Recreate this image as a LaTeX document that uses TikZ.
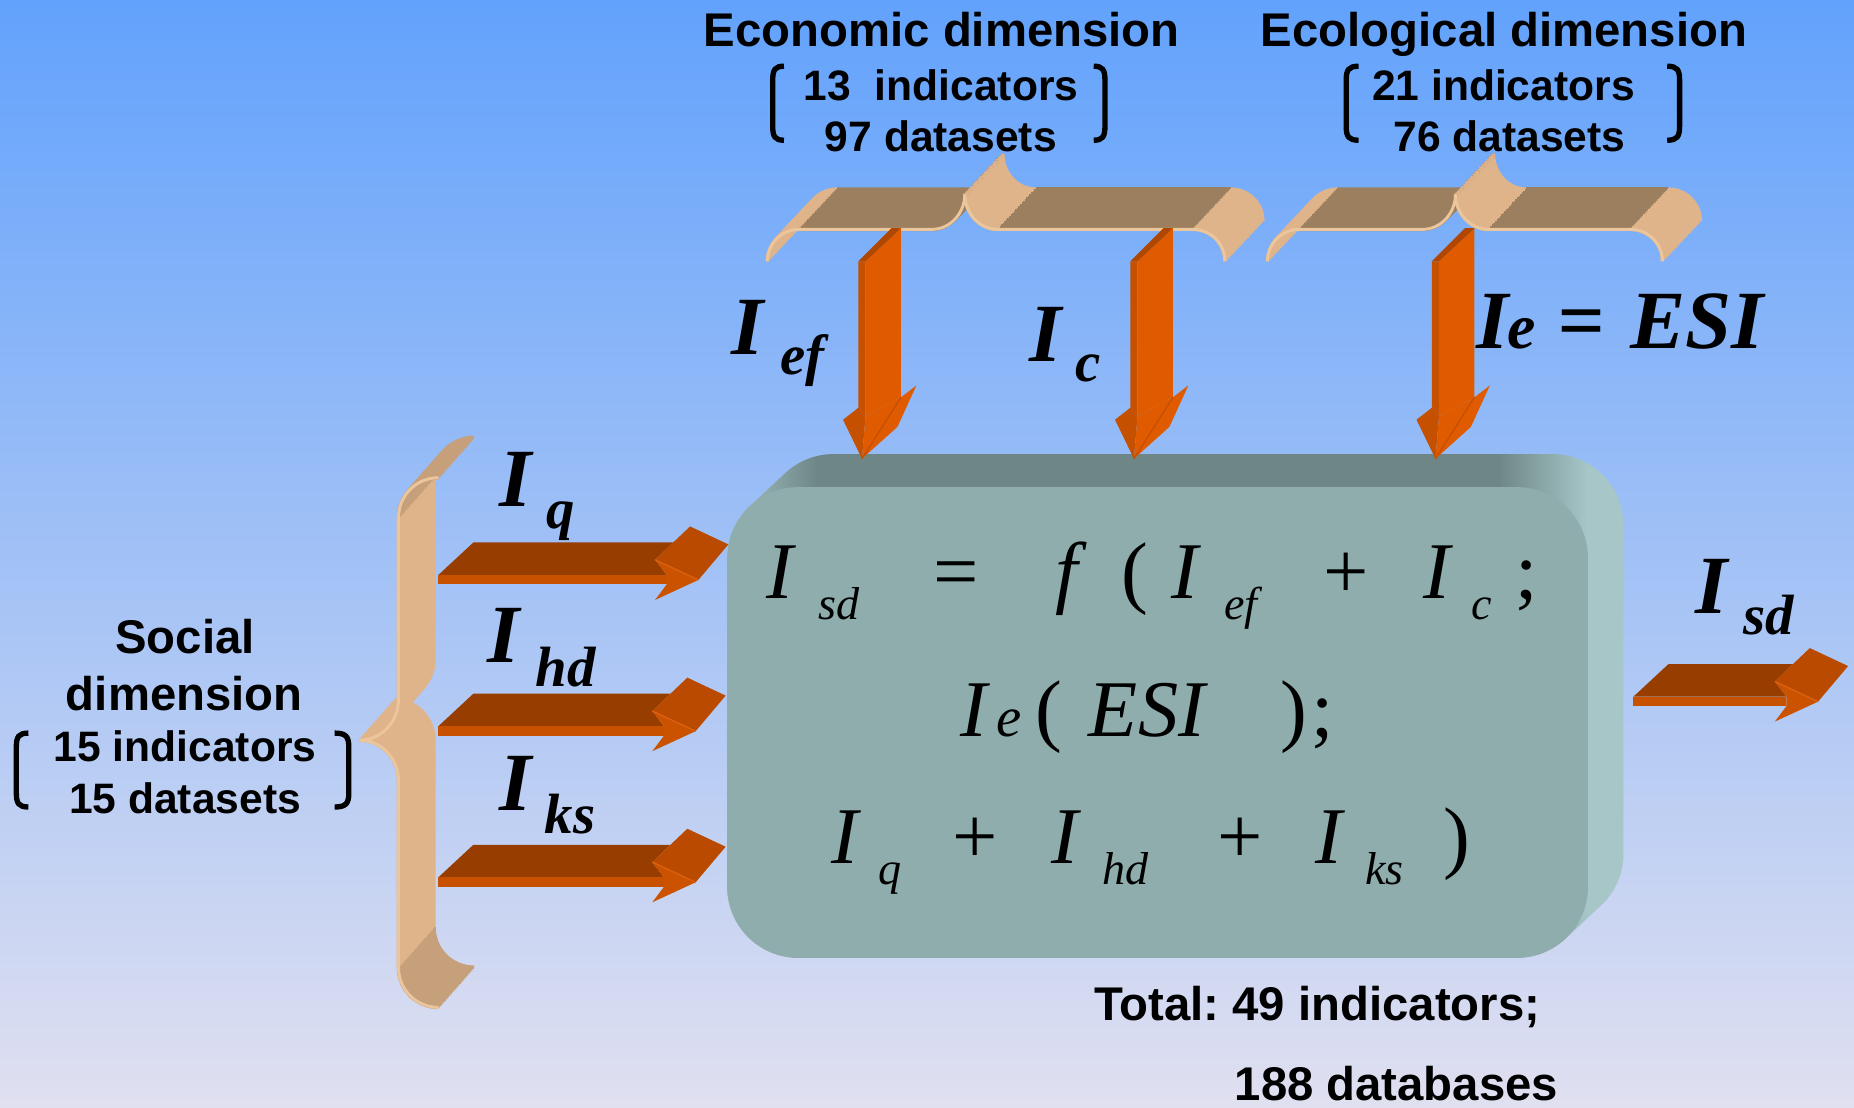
\documentclass[tikz,border=0pt]{standalone}
\usepackage{fontspec}
\setmainfont{Liberation Sans}
\newfontfamily\tms{Liberation Serif}
\frenchspacing
\definecolor{bgtop}{HTML}{62A2FC}
\definecolor{bgmid}{HTML}{8DC3F9}
\definecolor{bgbot}{HTML}{E0E0F0}
\definecolor{tanlight}{HTML}{DFB48A}
\definecolor{tanmid}{HTML}{C6A07A}
\definecolor{tandark}{HTML}{9B7F5F}
\definecolor{tanrim}{HTML}{EBC59B}
\definecolor{artop}{HTML}{983D00}
\definecolor{arfront}{HTML}{C85100}
\definecolor{arhead}{HTML}{BA4A00}
\definecolor{arbarb}{HTML}{CB5300}
\definecolor{arridge}{HTML}{DA6010}
\definecolor{arbright}{HTML}{E05B00}
\definecolor{arside}{HTML}{C45000}
\definecolor{arbevel}{HTML}{B04600}
\definecolor{bxfront}{HTML}{8FADAD}
\definecolor{bxtop}{HTML}{6E8686}
\definecolor{bxside}{HTML}{A6C6C7}
\pgfdeclarehorizontalshading{boxhull}{100bp}{color(0bp)=(bxside); color(25bp)=(bxside); color(30bp)=(bxtop); color(68bp)=(bxtop); color(73bp)=(bxside); color(100bp)=(bxside)}
\newcommand\fsz[1]{\fontsize{#1}{#1}\selectfont}
% horizontal 3D brace (cusp up): xL, xR, cx, yb
\newcommand\hbrace[4]{%
 \foreach \i in {24,...,0}{%
  \begin{scope}[shift={({32*\i/24},{-34*\i/24})}]
   \draw[bl] (#1,#4+27) .. controls (#1,#4+12) and (#1+12,#4) .. (#1+27,#4);
   \draw[bd] (#1+27,#4) -- (#3-28,#4) .. controls (#3-12,#4) and (#3,#4-14) .. (#3,#4-30);
   \draw[bl] (#3,#4-30) .. controls (#3,#4-14) and (#3+12,#4) .. (#3+28,#4);
   \draw[bd] (#3+28,#4) -- (#2-27,#4);
   \draw[bl] (#2-27,#4) .. controls (#2-12,#4) and (#2,#4+12) .. (#2,#4+27);
  \end{scope}}
 \draw[brim] (#1,#4+27) .. controls (#1,#4+12) and (#1+12,#4) .. (#1+27,#4)
   -- (#3-28,#4) .. controls (#3-12,#4) and (#3,#4-14) .. (#3,#4-30)
   .. controls (#3,#4-14) and (#3+12,#4) .. (#3+28,#4)
   -- (#2-27,#4) .. controls (#2-12,#4) and (#2,#4+12) .. (#2,#4+27);
}
% vertical 3D arrow, L = left x of shaft
\newcommand\varrow[1]{%
 \fill[arside] (#1,221) -- (#1+6,221) -- (#1+6,352) -- (#1+1,344) -- (#1,344) -- cycle;
 \fill[arbright] (#1+6,221) -- (#1+36,193) -- (#1+36,336) -- (#1+6,352) -- cycle;
 \fill[arbevel] (#1,221) -- (#1+28,193) -- (#1+36,193) -- (#1+6,221) -- cycle;
 \fill[arside] (#1-13,355) -- (#1+1,344) -- (#1+6,352) -- (#1+3,388) -- cycle;
 \fill[arbright] (#1+6,352) -- (#1+36,336) -- (#1+49,326) -- (#1+33,361) -- (#1+3,388) -- cycle;
 \draw[arside, line width=1.2pt] (#1+3,388) -- (#1+36,336);
}
% horizontal 3D arrow: x, y of front-left corner, shaft length
\newcommand\harrow[3]{%
 \begin{scope}[shift={(#1,#2)}]
 \fill[artop] (0,0) -- (29.6,-27.5) -- (#3+15.3,-27.5) -- (#3,-12.9) -- (#3+9.8,0) -- cycle;
 \fill[arfront] (0,0) rectangle (#3+9.8,8);
 \fill[arhead] (#3,-12.9) -- (#3+29.6,-41.1) -- (#3+62,-25.9) -- (#3+36.6,4.2) -- cycle;
 \fill[arbarb] (#3,-12.9) -- (#3+36.6,4.2) -- (#3,21.1) -- (#3+9.8,8) -- (#3+9.8,0) -- cycle;
 \draw[arridge, line width=1.2pt] (#3,-12.9) -- (#3+36.6,4.2);
 \end{scope}}
% bracket: x of vertical stroke, x of hook end, top y, bottom y
\newcommand\brk[4]{%
 \draw[brkstyle] (#2,#3) .. controls ({#1+0.2*(#2-#1)},#3) and (#1,#3+3) .. (#1,#3+12)
   -- (#1,#4-12) .. controls (#1,#4-3) and ({#1+0.2*(#2-#1)},#4) .. (#2,#4);}
\begin{document}
\begin{tikzpicture}[x=1pt,y=-1pt,
  bl/.style={draw=tanlight, line width=3pt},
  bd/.style={draw=tandark, line width=3pt},
  bm/.style={draw=tanmid, line width=3pt},
  brim/.style={draw=tanrim, line width=2.5pt},
  brkstyle/.style={draw=black, line width=4.5pt},
  lbl/.style={inner sep=0pt, outer sep=0pt, anchor=base},
  sansA/.style={lbl, font=\bfseries\fsz{40}},
  sansB/.style={lbl, font=\bfseries\fsz{36}},
  biA/.style={lbl, font=\tms\bfseries\itshape\fsz{70}},
  biB/.style={lbl, font=\tms\bfseries\itshape\fsz{48}},
  itA/.style={lbl, font=\tms\itshape\fsz{68}},
  itB/.style={lbl, font=\tms\itshape\fsz{39}},
  upA/.style={lbl, font=\tms\fsz{68}}]
\useasboundingbox (0,0) rectangle (1568,937);
\shade[top color=bgtop, middle color=bgmid, bottom color=bgbot] (0,0) rectangle (1568,937);

% top braces
\hbrace{649}{1036}{816}{194}
\hbrace{1072}{1406}{1231}{194}

% left brace (cusp to the left)
\foreach \i in {24,...,0}{%
 \begin{scope}[shift={({30*\i/24},{-34*\i/24})}]
  \draw[bm] (371,404) .. controls (352,404) and (337,419) .. (337,438);
  \draw[bl] (337,438) -- (337,592) .. controls (337,611) and (322,626) .. (304,626);
  \draw[bl] (304,626) .. controls (322,626) and (337,641) .. (337,660) -- (337,818);
  \draw[bm] (337,818) .. controls (337,837) and (352,852) .. (371,852);
 \end{scope}}
\draw[brim] (371,404) .. controls (352,404) and (337,419) .. (337,438) -- (337,592)
  .. controls (337,611) and (322,626) .. (304,626)
  .. controls (322,626) and (337,641) .. (337,660) -- (337,818)
  .. controls (337,837) and (352,852) .. (371,852);

% central box
\shade[shading=boxhull, rounded corners=60pt] \foreach \i in {0,...,20} {({615+1.5*\i},{412-1.4*\i}) rectangle ({1343+1.5*\i},{810-1.4*\i})};
\fill[bxfront, rounded corners=60pt] (615,412) rectangle (1343,810);

% arrows
\varrow{726}
\varrow{956}
\varrow{1211}
\harrow{370.7}{486.3}{183.3}
\harrow{370.7}{614.2}{181}
\harrow{370.7}{742}{181}
\harrow{1381.4}{589.2}{119.6}

% brackets
\brk{653.5}{663}{56}{118.6}
\brk{934.5}{925}{56}{118.6}
\brk{1138.5}{1149}{56}{118.6}
\brk{1420.5}{1410}{56}{118.6}
\brk{13.8}{24}{620}{682.5}
\brk{295}{283}{620}{682.5}

% dimension texts
\node[sansA] (econ) at (796.5,39.5) {Economic dimension};
\node[sansB] (econi) at (796,84.6) {13~ indicators};
\node[sansB] (econd) at (795.7,128.3) {97 datasets};
\node[sansA] (ecol) at (1272,39.5) {Ecological dimension};
\node[sansB] (ecoli) at (1271.5,84.6) {21 indicators};
\node[sansB] (ecold) at (1276.7,128.3) {76 datasets};
\node[sansA] (soc1) at (156.5,552.6) {Social};
\node[sansA] (soc2) at (155.8,600.5) {dimension};
\node[sansB] (soci) at (156.5,644.2) {15 indicators};
\node[sansB] (socd) at (156.5,687.9) {15 datasets};
\node[sansA] (tot1) at (1114,863.3) {Total: 49 indicators;};
\node[sansA] (tot2) at (1181,930.5) {188 databases};

% outside labels
\node[biA] (lIef) at (632,300) {I};
\node[biB] (lIefs) at (678.5,317) {ef};
\node[biA] (lIc) at (884,306) {I};
\node[biB] (lIcs) at (920,323) {c};
\node[biA] (lIe) at (1262,294.5) {I};
\node[lbl, font=\tms\bfseries\itshape\fsz{54}] (lIes) at (1287,294.5) {e};
\node[biA] (lEq) at (1337.5,294.5) {=};
\node[biA] (lESI) at (1435.6,294.5) {ESI};
\node[biA] (lIq) at (436,428) {I};
\node[biB] (lIqs) at (474,447) {q};
\node[biA] (lIhd) at (425.7,560.7) {I};
\node[biB] (lIhds) at (478.5,580.4) {hd};
\node[biA] (lIks) at (436,685.4) {I};
\node[biB] (lIkss) at (482,705) {ks};
\node[biA] (lIsd) at (1447.5,518.7) {I};
\node[biB] (lIsds) at (1496,537) {sd};

% equation in the box
\node[itA] (e1) at (659.5,506) {I};
\node[itB] (e2) at (709.5,524) {sd};
\node[upA] (e3) at (808.5,506) {=};
\node[itA] (e4) at (902,506) {f};
\node[upA] (e5) at (959.5,506) {(};
\node[itA] (e6) at (1002.5,506) {I};
\node[itB] (e7) at (1049.5,524) {ef};
\node[upA] (e8) at (1138.5,506) {+};
\node[itA] (e9) at (1215.5,506) {I};
\node[itB] (e10) at (1253,524) {c};
\node[upA] (e11) at (1291.5,506) {;};
\node[itA] (f1) at (823.5,623) {I};
\node[lbl, font=\tms\itshape\fsz{48}] (f2) at (853.5,623) {e};
\node[upA] (f3) at (887,623) {(};
\node[itA] (f4) at (970,623) {ESI};
\node[upA] (f5) at (1094,623) {)};
\node[upA] (f6) at (1119,623) {;};
\node[itA] (g1) at (714.5,730) {I};
\node[itB] (g2) at (753,748) {q};
\node[upA] (g3) at (825,730) {+};
\node[itA] (g4) at (900.5,730) {I};
\node[itB] (g5) at (952,748) {hd};
\node[upA] (g6) at (1048.5,730) {+};
\node[itA] (g7) at (1123.5,730) {I};
\node[itB] (g8) at (1171,748) {ks};
\node[upA] (g9) at (1232,730) {)};
\end{tikzpicture}
\end{document}
